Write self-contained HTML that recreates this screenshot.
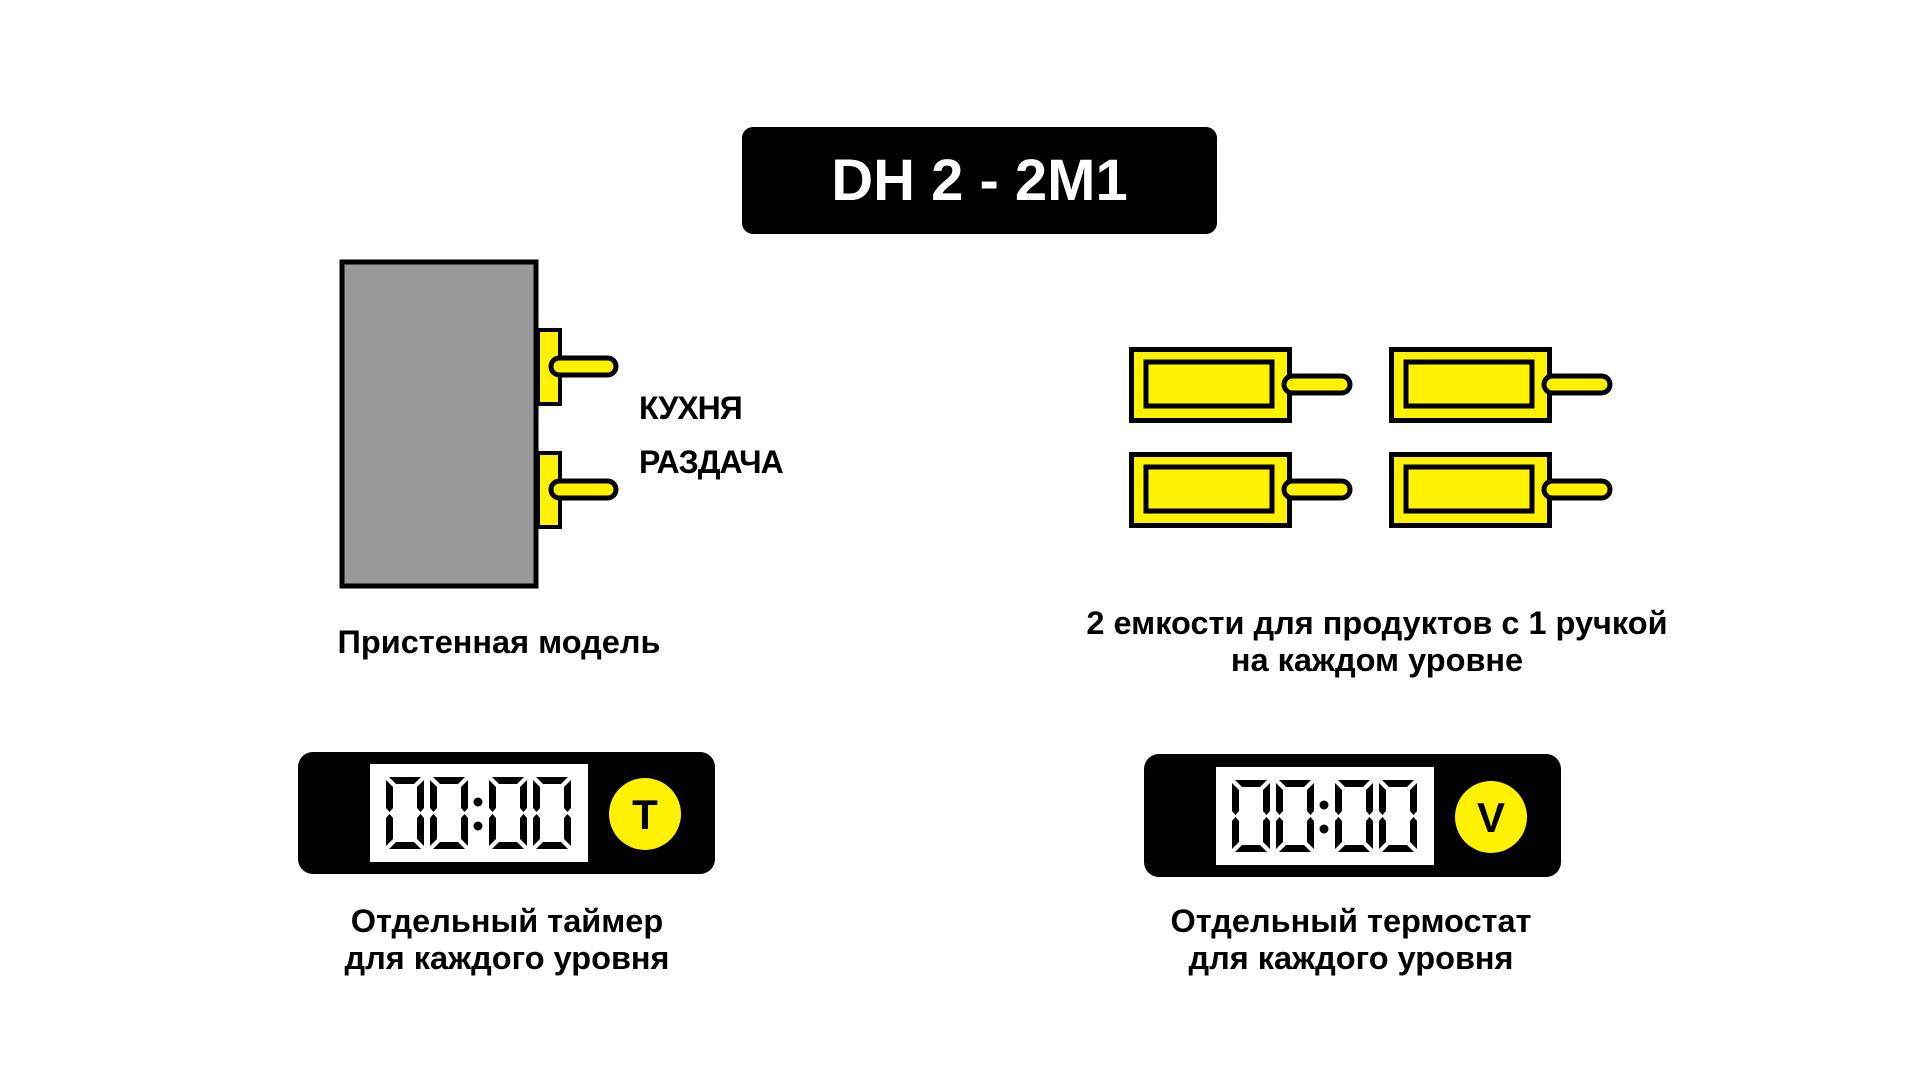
<!DOCTYPE html>
<html><head><meta charset="utf-8"><style>
body{margin:0;width:1920px;height:1080px;background:#fff;position:relative;overflow:hidden;font-family:"Liberation Sans",sans-serif;font-weight:bold;color:#000}
.a{position:absolute}
.t{position:absolute;text-align:center;font-size:32.5px;line-height:37px;white-space:nowrap;transform:translateX(-50%)}
</style></head><body>
<div class="a" style="left:742px;top:127px;width:475px;height:107px;background:#000;border-radius:11px"></div>
<div class="a" style="left:742px;top:127px;width:475px;height:107px;line-height:107px;text-align:center;color:#fff;font-size:58px">DH 2 - 2M1</div>

<svg class="a" style="left:0;top:0" width="1920" height="1080">
<defs>
<g id="d">
<polygon points="3,0 35,0 28,7 10,7"/>
<polygon points="3,72 35,72 28,65 10,65"/>
<polygon points="0,3 7,10 7,31 3.5,35 0,31"/>
<polygon points="38,3 31,10 31,31 34.5,35 38,31"/>
<polygon points="0,41 3.5,37 7,41 7,62 0,69"/>
<polygon points="38,41 34.5,37 31,41 31,62 38,69"/>
</g>
<g id="dig">
<use href="#d" x="0"/><use href="#d" x="44"/>
<circle cx="92" cy="25" r="4.5"/><circle cx="92" cy="49" r="4.5"/>
<use href="#d" x="103"/><use href="#d" x="147"/>
</g>
<g id="box">
<rect x="2.5" y="2.5" width="158" height="71" fill="#fff200" stroke="#000" stroke-width="5"/>
<rect x="17" y="15" width="126" height="44" fill="#fff200" stroke="#000" stroke-width="5"/>
<rect x="155" y="29" width="66" height="17" rx="8.5" fill="#fff200" stroke="#000" stroke-width="5"/>
</g>
</defs>
<rect x="342" y="262" width="194" height="324" fill="#999" stroke="#000" stroke-width="5"/>
<rect x="538" y="330" width="22" height="74" fill="#fff200" stroke="#000" stroke-width="4"/>
<rect x="538" y="453" width="22" height="74" fill="#fff200" stroke="#000" stroke-width="4"/>
<rect x="551" y="358" width="65" height="17" rx="8.5" fill="#fff200" stroke="#000" stroke-width="5"/>
<rect x="551" y="481" width="65" height="17" rx="8.5" fill="#fff200" stroke="#000" stroke-width="5"/>

<use href="#box" x="1129" y="347"/>
<use href="#box" x="1389" y="347"/>
<use href="#box" x="1129" y="452"/>
<use href="#box" x="1389" y="452"/>

<rect x="298" y="752" width="417" height="122" rx="15" fill="#000"/>
<rect x="370" y="764" width="218" height="98" fill="#fff"/>
<use href="#dig" x="386" y="777"/>
<circle cx="645" cy="814" r="36" fill="#fff200"/>
<text x="645" y="829" text-anchor="middle" font-family="Liberation Sans" font-weight="bold" font-size="42">T</text>

<rect x="1144" y="754" width="417" height="123" rx="15" fill="#000"/>
<rect x="1216" y="767" width="218" height="98" fill="#fff"/>
<use href="#dig" x="1232" y="780"/>
<circle cx="1491" cy="817" r="36" fill="#fff200"/>
<text x="1491" y="832" text-anchor="middle" font-family="Liberation Sans" font-weight="bold" font-size="42">V</text>
</svg>

<div class="a" style="left:639px;top:390px;font-size:32px;letter-spacing:-1px">КУХНЯ</div>
<div class="a" style="left:639px;top:444px;font-size:32px;letter-spacing:-1px">РАЗДАЧА</div>

<div class="t" style="left:499px;top:624px">Пристенная модель</div>
<div class="t" style="left:1377px;top:605px">2 емкости для продуктов с 1 ручкой<br>на каждом уровне</div>
<div class="t" style="left:507px;top:903px">Отдельный таймер<br>для каждого уровня</div>
<div class="t" style="left:1351px;top:903px">Отдельный термостат<br>для каждого уровня</div>
</body></html>
